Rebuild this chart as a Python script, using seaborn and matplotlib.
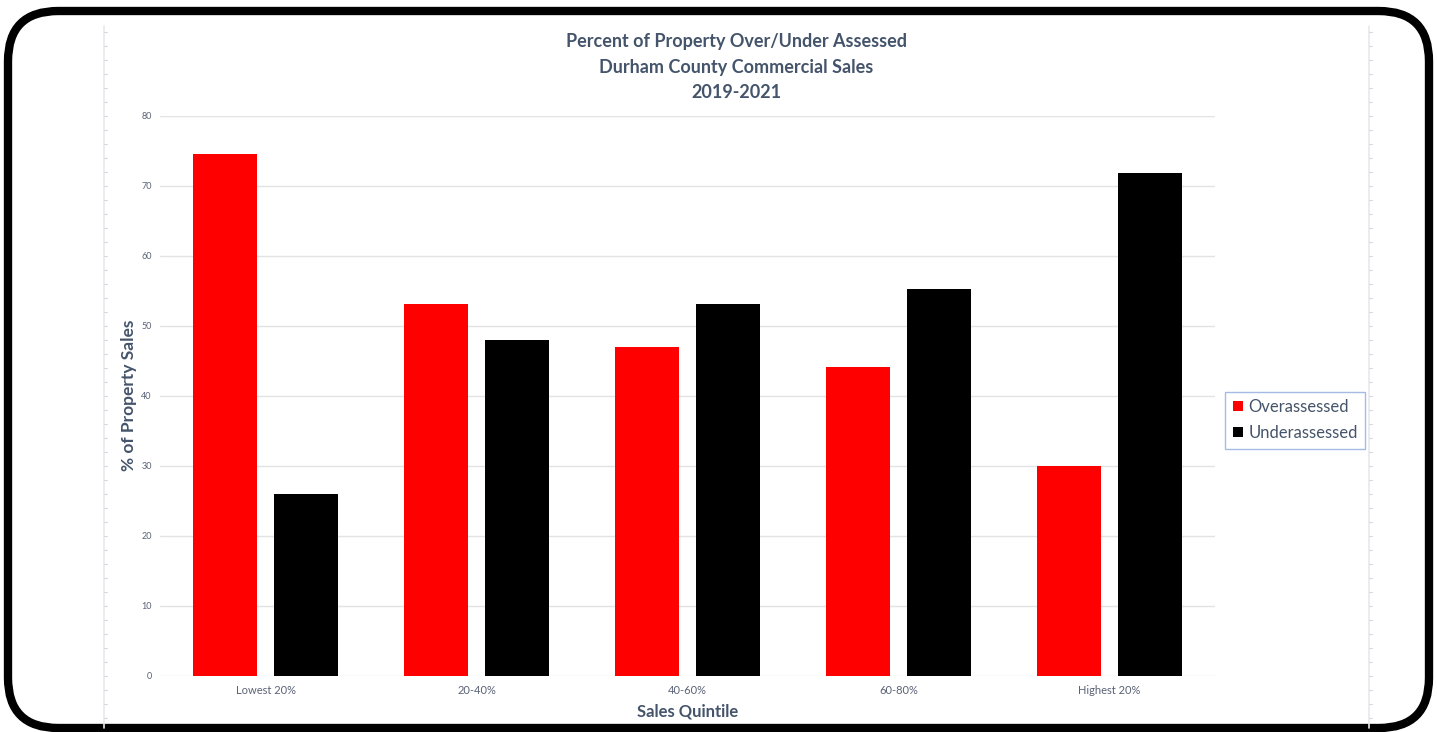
import matplotlib
matplotlib.use("Agg")
import matplotlib.pyplot as plt
import seaborn as sns
import pandas as pd
from matplotlib.patches import FancyBboxPatch, Patch
from matplotlib.lines import Line2D

categories = ["Lowest 20%", "20-40%", "40-60%", "60-80%", "Highest 20%"]
overassessed = [74.5, 53.1, 47.0, 44.1, 29.9]
underassessed = [25.9, 47.9, 53.1, 55.2, 71.8]
series_names = ["Overassessed", "Underassessed"]
y_ticks = [0, 10, 20, 30, 40, 50, 60, 70, 80]

df = pd.DataFrame({
    "Quintile": categories * 2,
    "Series": [series_names[0]] * len(categories) + [series_names[1]] * len(categories),
    "Value": overassessed + underassessed,
})

sns.set_theme(style="white")
plt.rcParams["font.family"] = ["Lato", "DejaVu Sans"]

W, H = 1437, 732
fig = plt.figure(figsize=(W / 100, H / 100), dpi=100)
fig.patch.set_facecolor("white")

ax = fig.add_axes([160 / W, 1 - 675.7 / H, (1215 - 160) / W, (675.7 - 115.7) / H])
sns.barplot(data=df, x="Quintile", y="Value", hue="Series", order=categories,
            hue_order=series_names, palette=["#FF0000", "#000000"],
            width=0.768, gap=0.2, saturation=1, ax=ax, legend=False, zorder=3,
            linewidth=0, edgecolor="none")

text_col = "#44546A"
tick_col = "#5A6275"
ax.set_xlim(-0.5, 4.5)
ax.set_ylim(0, 80)
ax.set_yticks(y_ticks)
ax.set_yticklabels([str(t) for t in y_ticks], fontsize=6.5, color=tick_col)
ax.tick_params(axis="x", labelsize=8, colors=tick_col, length=0, pad=7)
ax.tick_params(axis="y", length=0, pad=6)
ax.yaxis.grid(True, color="#E3E3E3", linewidth=1, zorder=0)
ax.set_axisbelow(True)
for s in ax.spines.values():
    s.set_visible(False)
ax.set_xlabel("Sales Quintile", fontsize=12, fontweight="bold", color=text_col, labelpad=5)
ax.set_ylabel("% of Property Sales", fontsize=12.5, fontweight="bold", color=text_col, labelpad=3)

tx = 736 / W
fig.text(tx, 1 - 42 / H, "Percent of Property Over/Under Assessed", ha="center", va="center",
         fontsize=13, fontweight="bold", color=text_col)
fig.text(tx, 1 - 67 / H, "Durham County Commercial Sales", ha="center", va="center",
         fontsize=13, fontweight="bold", color=text_col)
fig.text(tx, 1 - 92 / H, "2019-2021", ha="center", va="center",
         fontsize=13, fontweight="bold", color=text_col)

handles = [Patch(facecolor="#FF0000", edgecolor="none"), Patch(facecolor="#000000", edgecolor="none")]
leg = fig.legend(handles, series_names, loc="center left", bbox_to_anchor=(1225 / W, 1 - 420 / H),
                 frameon=True, fancybox=False, fontsize=12, handlelength=0.6, handleheight=0.6,
                 handletextpad=0.35, labelspacing=0.6, borderpad=0.45, borderaxespad=0,
                 labelcolor=text_col)
leg.get_frame().set_edgecolor("#8FAADC")
leg.get_frame().set_linewidth(1)

# decorative ruler lines
for xr in (104, 1369):
    fig.add_artist(Line2D([xr / W, xr / W], [4 / H, 1 - 26 / H], color="#E8E8EE", linewidth=1.2))
    y = 32
    while y < H - 6:
        fig.add_artist(Line2D([xr / W, (xr + 3) / W], [1 - y / H, 1 - y / H], color="#D8D8E0", linewidth=0.8))
        y += 14

# rounded black frame
frame = FancyBboxPatch((8 / W, 1 - 728 / H), (1429 - 8) / W, (728 - 11) / H,
                       boxstyle="round,pad=0,rounding_size=0.035", transform=fig.transFigure,
                       facecolor="none", edgecolor="black", linewidth=6, mutation_aspect=W / H)
fig.add_artist(frame)

fig.savefig("out.png", dpi=100)
